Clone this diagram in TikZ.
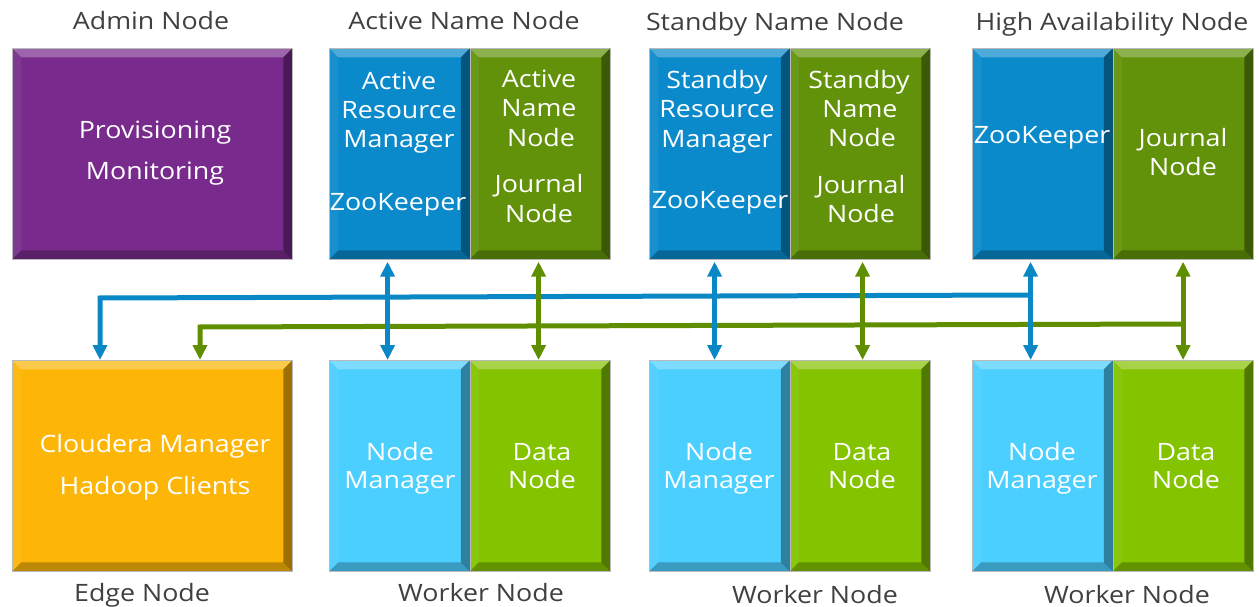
\documentclass[tikz,border=0pt]{standalone}
\usepackage{fontspec}
\setmainfont{Open Sans}[FakeStretch=1.12]
\usetikzlibrary{arrows.meta}
\definecolor{purp}{HTML}{782B8C}
\definecolor{dblue}{HTML}{0A8ACB}
\definecolor{dgreen}{HTML}{62920A}
\definecolor{lblue}{HTML}{4BCFFF}
\definecolor{lgreen}{HTML}{84C300}
\definecolor{orng}{HTML}{FDB607}
\definecolor{ablue}{HTML}{0A87C5}
\definecolor{agreen}{HTML}{5F8F00}
\definecolor{lbl}{HTML}{404040}
\begin{document}
\begin{tikzpicture}[x=1bp,y=-1bp,
  bev/.style={draw=gray!55, line width=0.7bp, anchor=north west, inner sep=0pt,
    path picture={
      \path (path picture bounding box.north west) coordinate (ppnw)
            (path picture bounding box.north east) coordinate (ppne)
            (path picture bounding box.south west) coordinate (ppsw)
            (path picture bounding box.south east) coordinate (ppse);
      \fill[white,opacity=.28] (ppnw) -- (ppne) -- ([xshift=-9bp,yshift=-9bp]ppne) -- ([xshift=9bp,yshift=-9bp]ppnw) -- cycle;
      \fill[white,opacity=.06] (ppnw) -- ([xshift=9bp,yshift=-9bp]ppnw) -- ([xshift=9bp,yshift=9bp]ppsw) -- (ppsw) -- cycle;
      \fill[black,opacity=.38] (ppne) -- (ppse) -- ([xshift=-9bp,yshift=9bp]ppse) -- ([xshift=-9bp,yshift=-9bp]ppne) -- cycle;
      \fill[black,opacity=.25] (ppsw) -- (ppse) -- ([xshift=-9bp,yshift=9bp]ppse) -- ([xshift=9bp,yshift=9bp]ppsw) -- cycle;
    }},
  wide/.style={bev, minimum width=280bp, minimum height=211bp},
  half/.style={bev, minimum width=140.5bp, minimum height=211bp},
  txt/.style={text=white, font=\fontsize{24}{29}\selectfont, inner sep=0pt, anchor=base},
  lab/.style={text=lbl, font=\fontsize{24}{29}\selectfont, inner sep=0pt, anchor=base},
  tipb/.tip={Triangle[width=14bp,length=15bp]},
  barr/.style={draw=ablue, line width=5bp, tipb-tipb},
  garr/.style={draw=agreen, line width=5bp, tipb-tipb},
  bln/.style={draw=ablue, line width=5bp, -tipb},
  gln/.style={draw=agreen, line width=5bp, -tipb},
]
\useasboundingbox (0,0) rectangle (1259,607);

% ---- top row boxes
\node[wide, fill=purp] (admin) at (12,48) {};
\node[half, fill=dblue] (anb) at (329,48) {};
\node[half, fill=dgreen] (ang) at (469.5,48) {};
\node[half, fill=dblue] (snb) at (649,48) {};
\node[half, fill=dgreen] (sng) at (789.5,48) {};
\node[half, fill=dblue] (hab) at (972,48) {};
\node[half, fill=dgreen] (hag) at (1112.5,48) {};

% ---- bottom row boxes
\node[wide, fill=orng] (edge) at (12,360) {};
\node[half, fill=lblue] (w1b) at (329,360) {};
\node[half, fill=lgreen] (w1g) at (469.5,360) {};
\node[half, fill=lblue] (w2b) at (649,360) {};
\node[half, fill=lgreen] (w2g) at (789.5,360) {};
\node[half, fill=lblue] (w3b) at (972,360) {};
\node[half, fill=lgreen] (w3g) at (1112.5,360) {};

% ---- header labels
\node[lab] (ladmin) at (151,30) {Admin Node};
\node[lab] (lactive) at (464,30) {Active Name Node};
\node[lab] (lstandby) at (775,31) {Standby Name Node};
\node[lab] (lha) at (1112,31) {High Availability Node};

% ---- footer labels
\node[lab] (ledge) at (142,601) {Edge Node};
\node[lab] (lw1) at (481,601) {Worker Node};
\node[lab] (lw2) at (815,603) {Worker Node};
\node[lab] (lw3) at (1127,603) {Worker Node};

% ---- texts inside top boxes
\node[txt] (t1) at (155,139) {Provisioning};
\node[txt] (t2) at (155,180) {Monitoring};

\node[txt] (t3) at (399,90) {Active};
\node[txt] (t4) at (399,119) {Resource};
\node[txt] (t5) at (399,148) {Manager};
\node[txt] (t6) at (398,211) {ZooKeeper};
\node[txt] (t7) at (539,88) {Active};
\node[txt] (t8) at (539,117) {Name};
\node[txt] (t9) at (541,147) {Node};
\node[txt] (t10) at (539,193) {Journal};
\node[txt] (t11) at (539,223) {Node};

\node[txt] (t12) at (717,89) {Standby};
\node[txt] (t13) at (717,118) {Resource};
\node[txt] (t14) at (717,148) {Manager};
\node[txt] (t15) at (720,209) {ZooKeeper};
\node[txt] (t16) at (859,89) {Standby};
\node[txt] (t17) at (860,118) {Name};
\node[txt] (t18) at (862,147) {Node};
\node[txt] (t19) at (861,194) {Journal};
\node[txt] (t20) at (861,223) {Node};

\node[txt] (t21) at (1042,144) {ZooKeeper};
\node[txt] (t22) at (1183,147) {Journal};
\node[txt] (t23) at (1183,176) {Node};

% ---- texts inside bottom boxes
\node[txt] (t24) at (155,452) {Cloudera Manager};
\node[txt] (t25) at (155,494) {Hadoop Clients};
\node[txt] (t26) at (400,460) {Node};
\node[txt] (t27) at (400,488) {Manager};
\node[txt] (t28) at (542,460) {Data};
\node[txt] (t29) at (542,488) {Node};
\node[txt] (t30) at (719,460) {Node};
\node[txt] (t31) at (719,488) {Manager};
\node[txt] (t32) at (862,460) {Data};
\node[txt] (t33) at (862,488) {Node};
\node[txt] (t34) at (1042,460) {Node};
\node[txt] (t35) at (1042,488) {Manager};
\node[txt] (t36) at (1186,460) {Data};
\node[txt] (t37) at (1186,488) {Node};

% ---- long connectors to the edge node
\coordinate (bj) at (1030,295);
\coordinate (bc) at (100,298);
\coordinate (gj) at (1182,324);
\coordinate (gc) at (200,327);
\draw[bln] (bj) -- (bc) -- (bc |- edge.north);
\draw[gln] (gj) -- (gc) -- (gc |- edge.north);

% ---- vertical double arrows
\draw[barr] ([xshift=-12bp,yshift=-2bp]anb.south) -- ([xshift=-12bp]w1b.north);
\draw[garr] ([xshift=-1.5bp,yshift=-2bp]ang.south) -- ([xshift=-1.5bp]w1g.north);
\draw[barr] ([xshift=-5bp,yshift=-2bp]snb.south) -- ([xshift=-5bp]w2b.north);
\draw[garr] ([xshift=2.5bp,yshift=-2bp]sng.south) -- ([xshift=2.5bp]w2g.north);
\draw[barr] ([xshift=-12bp,yshift=-2bp]hab.south) -- ([xshift=-12bp]w3b.north);
\draw[garr] ([xshift=0bp,yshift=-2bp]hag.south) -- ([xshift=0bp]w3g.north);
\end{tikzpicture}
\end{document}
